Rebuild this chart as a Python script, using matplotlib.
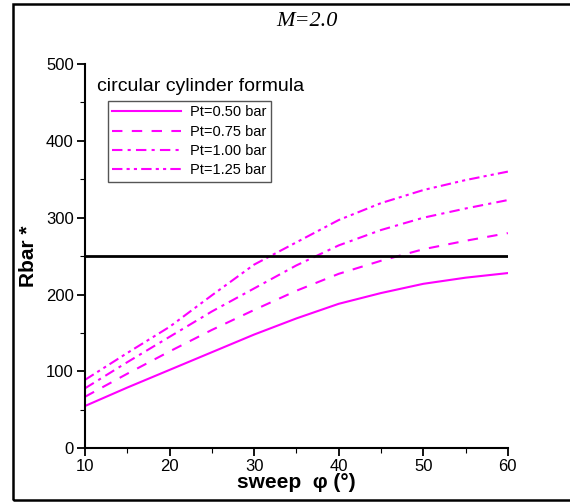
import matplotlib
matplotlib.use('Agg')
import matplotlib.pyplot as plt
from matplotlib.patches import Rectangle

plt.rcParams['font.family'] = ['Liberation Sans', 'DejaVu Sans']

# sweep angle (deg) and Rbar* for each total pressure
sweep = [10, 15, 20, 25, 30, 35, 40, 45, 50, 55, 60]
rbar_050 = [55, 79, 102, 125, 148, 169, 188, 202, 214, 222, 228]
rbar_075 = [67, 97, 126, 154, 180, 205, 227, 244, 259, 270, 280]
rbar_100 = [78, 112, 145, 178, 208, 238, 264, 284, 300, 312, 323]
rbar_125 = [89, 124, 158, 199, 239, 268, 297, 319, 336, 349, 360]
labels = ['Pt=0.50 bar', 'Pt=0.75 bar', 'Pt=1.00 bar', 'Pt=1.25 bar']
limit = 250

fig = plt.figure(figsize=(5.7, 5.04), dpi=100)
ax = fig.add_axes([0.149, 0.1105, 0.742, 0.7625])

col = '#ff00ff'
ax.plot(sweep, rbar_050, color=col, lw=1.5, label=labels[0])
ax.plot(sweep, rbar_075, color=col, lw=1.5, dashes=(5, 4.5), label=labels[1])
ax.plot(sweep, rbar_100, color=col, lw=1.5, dashes=(5, 2.5, 1.5, 2.5), label=labels[2])
ax.plot(sweep, rbar_125, color=col, lw=1.5, dashes=(5, 2, 1.5, 2, 1.5, 2), label=labels[3])
ax.axhline(limit, color='black', lw=2)

ax.set_xlim(10, 60)
ax.set_ylim(0, 500)
ax.set_xticks([10, 20, 30, 40, 50, 60])
ax.set_xticks([15, 25, 35, 45, 55], minor=True)
ax.set_yticks([0, 100, 200, 300, 400, 500])
ax.set_yticks([50, 150, 250, 350, 450], minor=True)
ax.tick_params(which='major', direction='out', length=6, width=1.3, labelsize=12, pad=2)
ax.tick_params(which='minor', direction='out', length=3.5, width=0.8)
for s in ['top', 'right']:
    ax.spines[s].set_visible(False)
for s in ['left', 'bottom']:
    ax.spines[s].set_linewidth(1.5)

ax.set_xlabel('sweep  φ (°)', fontsize=15, fontweight='bold', labelpad=-1)
ax.set_ylabel('Rbar *', fontsize=15, fontweight='bold', labelpad=6)

fig.text(307 / 570, 1 - 26.5 / 504, 'M=2.0', ha='center', va='baseline', fontsize=16,
         style='italic', family='Liberation Serif')
fig.text(97 / 570, 1 - 86 / 504, 'circular cylinder formula', ha='left', va='center', fontsize=14)

leg = ax.legend(loc='upper left', bbox_to_anchor=(108 / 570, 1 - 101 / 504),
                bbox_transform=fig.transFigure, fontsize=10.5, handlelength=4.7,
                handletextpad=0.65, labelspacing=0.36, borderpad=0.3,
                fancybox=False, framealpha=1, borderaxespad=0)
leg.get_frame().set_edgecolor('#555555')
leg.get_frame().set_linewidth(1)

# outer frame around the figure
fig.patches.append(Rectangle((13 / 570, 1 - 500 / 504), 1.1, 496 / 504, transform=fig.transFigure,
                             fill=False, edgecolor='black', lw=1.8, clip_on=False))

fig.savefig('out.png', dpi=100)
